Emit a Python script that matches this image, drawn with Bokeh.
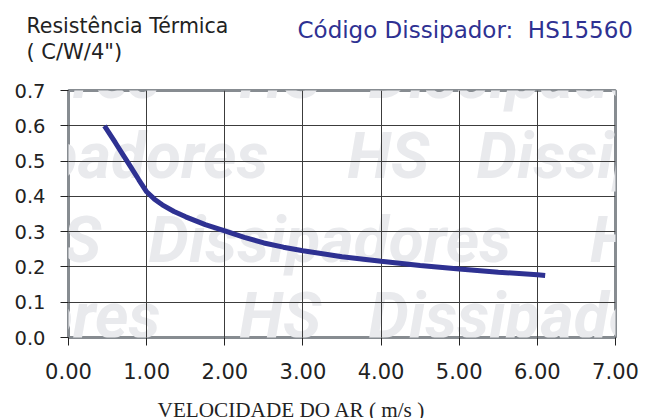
from bokeh.plotting import figure
from bokeh.models import Label, FixedTicker, NumeralTickFormatter
from bokeh.embed import file_html
from bokeh.resources import INLINE

# ---- data ----
velocity = [0.46, 0.6, 0.7, 0.8, 0.9, 1.0, 1.1, 1.2, 1.35, 1.5, 1.75, 2.0, 2.25,
            2.5, 2.75, 3.0, 3.5, 4.0, 4.5, 5.0, 5.5, 6.0, 6.1]
resistance = [0.600, 0.552, 0.517, 0.482, 0.447, 0.413, 0.392, 0.376, 0.357, 0.342,
              0.320, 0.302, 0.284, 0.268, 0.256, 0.246, 0.229, 0.216, 0.204, 0.194,
              0.185, 0.178, 0.176]
x_ticks = [0, 1, 2, 3, 4, 5, 6, 7]
y_ticks = [0.0, 0.1, 0.2, 0.3, 0.4, 0.5, 0.6, 0.7]
y_title_lines = ["Resistência Térmica", "( C/W/4\")"]
code_title = "Código Dissipador:\u00a0 HS15560"
x_title = "VELOCIDADE DO AR ( m/s )"
watermark_unit = "HS\u00a0\u00a0\u00a0Dissipadores\u00a0\u00a0\u00a0\u00a0\u00a0"

NAVY = "#2e3192"
W, H = 653, 418
FL, FR, FT, FB = 68, 615, 90, 337   # frame edges in page pixels

p = figure(width=W, height=H, x_range=(0, 7), y_range=(0, 0.7),
           output_backend="svg", toolbar_location=None, title=None,
           min_border_left=FL, min_border_right=W - FR, min_border_top=FT, min_border_bottom=H - FB)
p.background_fill_color = "white"
p.border_fill_color = "white"
p.outline_line_color = "#878c91"
p.outline_line_width = 3

def px_to_data(X, Y):
    return ((X - FL) / (FR - FL) * 7.0, (FB - Y) / (FB - FT) * 0.7)

# watermark rows (decoration): one text per row, frame-relative screen units
wm_rows = [(15, 25), (93, 243), (173, 351), (257, 23), (333, 243), (415, 351)]
for base_y, hs_x in wm_rows:
    p.add_layout(Label(x=hs_x - 575 - FL, y=FB - (base_y - 17), x_units="screen", y_units="screen",
                       text=watermark_unit * 3, text_font="Roboto", text_font_size="64px",
                       text_font_style="bold italic", text_color="#e9eaed",
                       text_baseline="alphabetic", level="image"))

p.line(velocity, resistance, line_color=NAVY, line_width=5, line_cap="butt")

for ax in (p.xaxis, p.yaxis):
    ax.axis_line_color = None
    ax.major_tick_out = 8
    ax.major_tick_in = 0
    ax.minor_tick_line_color = None
    ax.major_tick_line_color = "#222222"
    ax.major_label_text_font = "DejaVu Sans"
    ax.major_label_text_color = "#222222"

p.xaxis.ticker = FixedTicker(ticks=x_ticks)
p.xaxis.formatter = NumeralTickFormatter(format="0.00")
p.xaxis.major_label_text_font_size = "21px"
p.xaxis.major_label_standoff = 17

p.yaxis.ticker = FixedTicker(ticks=y_ticks)
p.yaxis.formatter = NumeralTickFormatter(format="0.0")
p.yaxis.major_label_text_font_size = "19.5px"
p.yaxis.major_label_standoff = 15

p.xgrid.ticker = FixedTicker(ticks=x_ticks)
p.ygrid.ticker = FixedTicker(ticks=y_ticks)
for g in (p.xgrid, p.ygrid):
    g.grid_line_color = "#3c3c3c"
    g.grid_line_width = 1

# titles placed in side panels (not clipped), positioned through the scales
def add_text(text, X, Y, place, size, color="#222222", font="DejaVu Sans", align="left"):
    x, y = px_to_data(X, Y)
    p.add_layout(Label(x=x, y=y, text=text, text_font=font, text_font_size=size,
                       text_color=color, text_align=align, text_baseline="alphabetic"), place)

add_text(y_title_lines[0], 26, 25, "above", "20.5px")
add_text(y_title_lines[1], 26, 51, "above", "21px")
add_text(code_title, 297, 29, "above", "23px", color=NAVY)
add_text(x_title, 291, 409, "below", "21.2px", font="Liberation Serif", align="center")

open("out.html", "w").write(file_html(p, INLINE))
